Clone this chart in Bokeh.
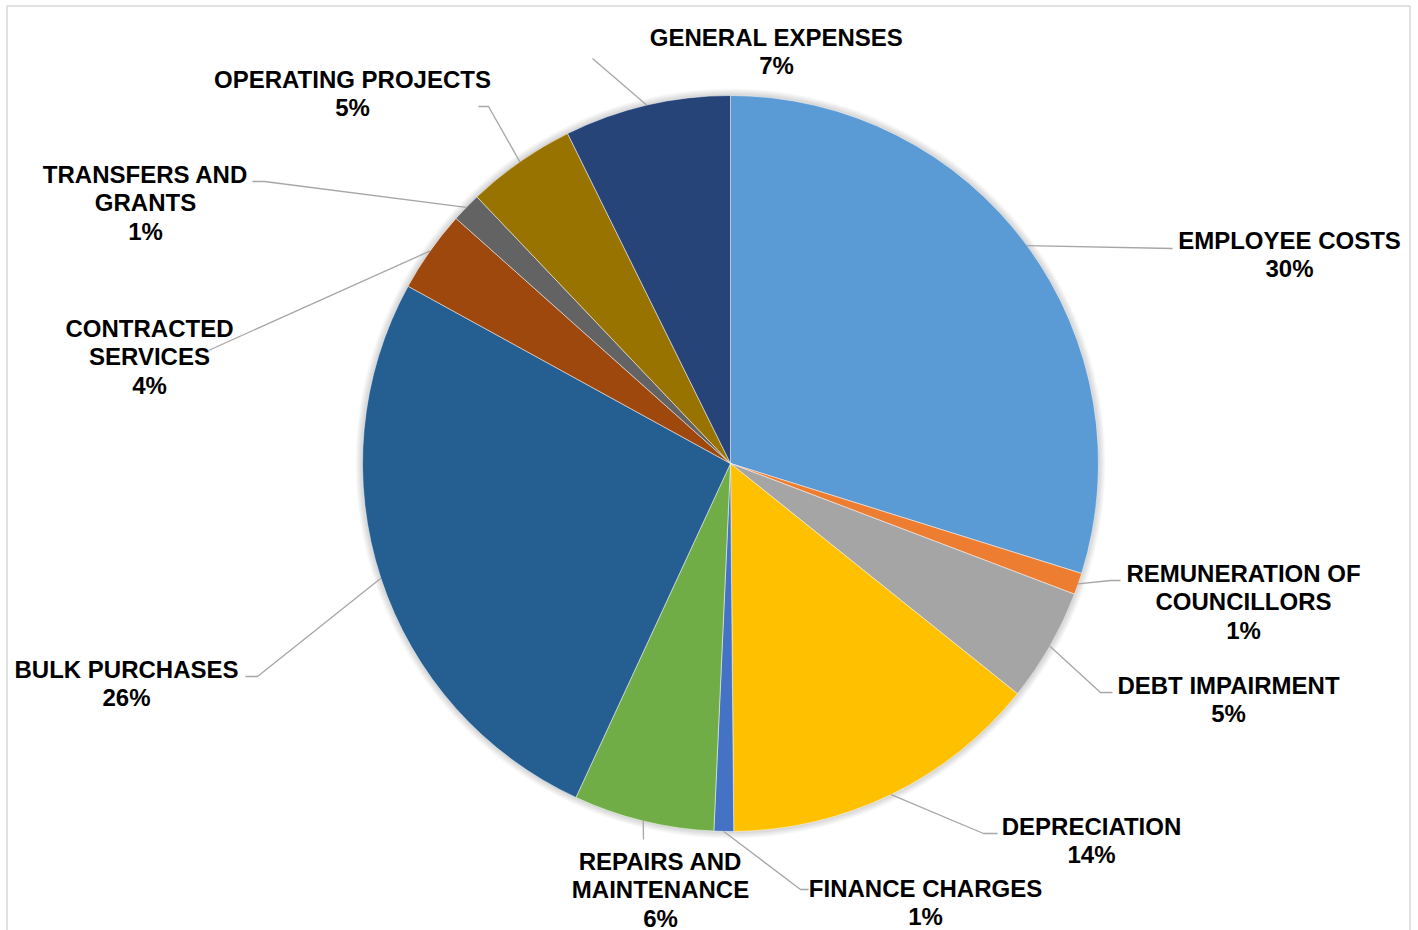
import math
from bokeh.plotting import figure
from bokeh.models import Range1d, ColumnDataSource
from bokeh.core.properties import value
from bokeh.embed import file_html
from bokeh.resources import INLINE

# ---------------- data ----------------
categories = ["EMPLOYEE COSTS", "REMUNERATION OF COUNCILLORS", "DEBT IMPAIRMENT",
              "DEPRECIATION", "FINANCE CHARGES", "REPAIRS AND MAINTENANCE",
              "BULK PURCHASES", "CONTRACTED SERVICES", "TRANSFERS AND GRANTS",
              "OPERATING PROJECTS", "GENERAL EXPENSES"]
shares = [29.83, 0.95, 4.98, 14.1, 0.86, 6.18, 26.1, 3.6, 1.3, 4.8, 7.3]
label_lines = [["EMPLOYEE COSTS"], ["REMUNERATION OF", "COUNCILLORS"], ["DEBT IMPAIRMENT"],
               ["DEPRECIATION"], ["FINANCE CHARGES"], ["REPAIRS AND", "MAINTENANCE"],
               ["BULK PURCHASES"], ["CONTRACTED", "SERVICES"], ["TRANSFERS AND", "GRANTS"],
               ["OPERATING PROJECTS"], ["GENERAL EXPENSES"]]

# ---------------- style / layout ----------------
colors = ["#5B9BD5", "#ED7D31", "#A5A5A5", "#FFC000", "#4472C4", "#70AD47",
          "#255E91", "#9E480E", "#636363", "#997300", "#264478"]
# label layout in picture pixels: centre x, baseline of first line
label_pos = [(1289, 248), (1243, 581), (1228, 693), (1091, 834), (925, 896), (660, 869),
             (126, 677), (149, 336), (145, 182), (352, 87), (776, 45)]
# leader line: label-side end and bend point (picture pixels)
leader_end = [(1172, 248), (1120, 580), (1112, 692), (997, 833), (808, 889), (643, 839),
              (245, 676), (208, 350), (252, 181), (478, 106), (592, 58)]
leader_bend = [(1172, 248), (1110, 580), (1100, 692), (983, 833), (800, 889), (643, 839),
               (257, 676), (208, 350), (264, 181), (488, 106), (592, 58)]

W, H = 1418, 930
CX_PAGE, CY_PAGE, R = 730, 463, 368
FONT = value("Liberation Sans")
LINE_H = 28.5
TEXT_SHIFT = -8.5


def px(x):
    return x


def py(y):
    return H - y


p = figure(width=W, height=H, output_backend="svg", toolbar_location=None,
           x_range=Range1d(0, W), y_range=Range1d(0, H), min_border=0)
p.axis.visible = False
p.grid.visible = False
p.outline_line_color = None
p.background_fill_color = "white"
p.border_fill_color = "white"

# chart border (left, top, right)
p.line([6.5, 6.5, 1409.5, 1409.5], [-5, py(5.5), py(5.5), -5], line_color="#D9D9D9", line_width=1.5)

cx, cy = px(CX_PAGE), py(CY_PAGE)

# soft shadow
for k in range(1, 8):
    p.circle(x=[cx], y=[cy], radius=R + k, fill_color="black", fill_alpha=0.022, line_color=None)

total = sum(shares)
cum = [0.0]
for s in shares:
    cum.append(cum[-1] + s / total)
starts = [math.pi / 2 - 2 * math.pi * cum[i + 1] for i in range(len(shares))]
ends = [math.pi / 2 - 2 * math.pi * cum[i] for i in range(len(shares))]

src = ColumnDataSource(dict(start=starts, end=ends, color=colors, cat=categories))
p.wedge(x=cx, y=cy, radius=R, start_angle="start", end_angle="end", fill_color="color",
        line_color="white", line_width=0.5, source=src)

# leader lines and labels
for i, s in enumerate(shares):
    mid = (cum[i] + cum[i + 1]) / 2
    ang = math.pi / 2 - 2 * math.pi * mid
    ex, ey = cx + R * math.cos(ang), cy + R * math.sin(ang)
    bx, by = leader_bend[i]
    lx, ly = leader_end[i]
    p.line([ex, px(bx), px(lx)], [ey, py(by), py(ly)], line_color="#A6A6A6", line_width=1.3)
    lines = label_lines[i] + [f"{round(s)}%"]
    x0, y0 = label_pos[i]
    xs = [px(x0)] * len(lines)
    ys = [py(y0 + TEXT_SHIFT + j * LINE_H) for j in range(len(lines))]
    p.text(x=xs, y=ys, text=lines, text_font=FONT, text_font_style="bold",
           text_font_size="24px", text_align="center", text_baseline="alphabetic",
           text_color="black")

open("out.html", "w").write(file_html(p, INLINE))
